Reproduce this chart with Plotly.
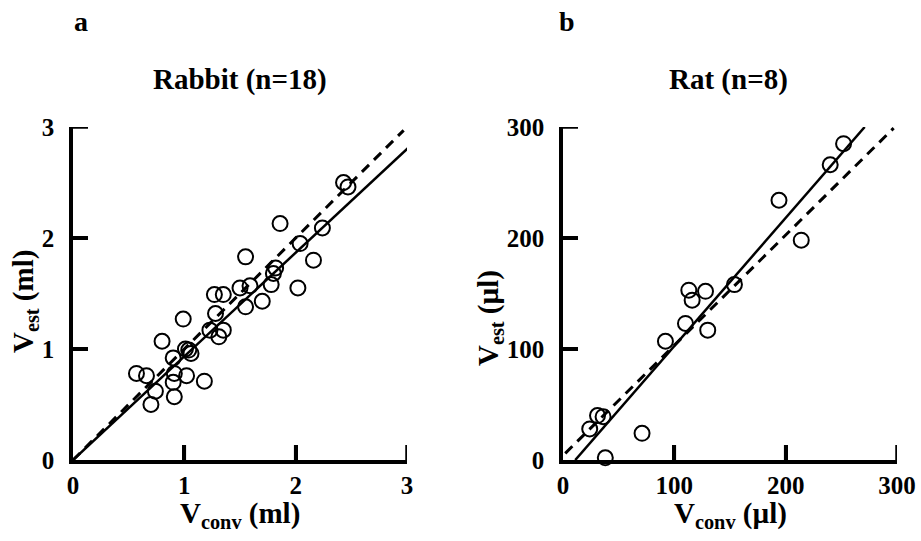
import plotly.graph_objects as go

W, H = 921, 541

# Rabbit data (ml)
rabbit_conv = [0.57, 0.66, 0.74, 0.70, 0.80, 0.90, 0.91, 0.90, 0.91, 1.02, 0.99, 1.04, 1.06, 1.01,
               1.18, 1.23, 1.28, 1.27, 1.35, 1.31, 1.35, 1.50, 1.59, 1.55, 1.55, 1.70, 1.78, 1.80,
               1.82, 1.86, 2.02, 2.04, 2.16, 2.24, 2.43, 2.47]
rabbit_est = [0.78, 0.76, 0.62, 0.50, 1.07, 0.92, 0.78, 0.70, 0.57, 0.76, 1.27, 0.99, 0.96, 1.00,
              0.71, 1.17, 1.32, 1.49, 1.49, 1.11, 1.17, 1.55, 1.57, 1.83, 1.38, 1.43, 1.58, 1.68,
              1.73, 2.13, 1.55, 1.95, 1.80, 2.09, 2.50, 2.46]
rabbit_fit_x = [0.0, 3.02]
rabbit_fit_y = [0.0, 2.82]
rabbit_id_x = [0.0, 2.97]
rabbit_id_y = [0.0, 2.97]
rabbit_ticks = [0, 1, 2, 3]
rabbit_ticklabels = ["0", "1", "2", "3"]

# Rat data (µl)
rat_conv = [24, 31, 36, 38, 71, 92, 110, 113, 116, 128, 130, 154, 194, 214, 240, 252]
rat_est = [28, 40, 39, 2, 24, 107, 123, 153, 144, 152, 117, 158, 234, 198, 266, 285]
rat_fit_x = [11, 271]
rat_fit_y = [0, 300]
rat_id_x = [2, 297]
rat_id_y = [6, 299]
rat_ticks = [0, 100, 200, 300]
rat_ticklabels = ["0", "100", "200", "300"]

FONT = "Liberation Serif"
PAD = "\u2009\u2009"  # spacing between y tick labels and axis

fig = go.Figure()

marker = dict(symbol="circle-open", size=15, color="black", line=dict(width=2, color="black"))

fig.add_trace(go.Scatter(x=rabbit_id_x, y=rabbit_id_y, mode="lines",
                         line=dict(color="black", width=3, dash="10px,7px"),
                         xaxis="x", yaxis="y", showlegend=False))
fig.add_trace(go.Scatter(x=rabbit_fit_x, y=rabbit_fit_y, mode="lines",
                         line=dict(color="black", width=2.5),
                         xaxis="x", yaxis="y", showlegend=False))
fig.add_trace(go.Scatter(x=rabbit_conv, y=rabbit_est, mode="markers", marker=marker,
                         xaxis="x", yaxis="y", showlegend=False, cliponaxis=False))

fig.add_trace(go.Scatter(x=rat_id_x, y=rat_id_y, mode="lines",
                         line=dict(color="black", width=3, dash="10px,7px"),
                         xaxis="x2", yaxis="y2", showlegend=False))
fig.add_trace(go.Scatter(x=rat_fit_x, y=rat_fit_y, mode="lines",
                         line=dict(color="black", width=2.5),
                         xaxis="x2", yaxis="y2", showlegend=False))
fig.add_trace(go.Scatter(x=rat_conv, y=rat_est, mode="markers", marker=marker,
                         xaxis="x2", yaxis="y2", showlegend=False, cliponaxis=False))

# inside tick marks drawn as line traces at the tick values (length ~15 px)
PLOT_PX = 334.0
TL_PX = 15.0
for xr, yr, vals, span in (("x", "y", rabbit_ticks, 3.0), ("x2", "y2", rat_ticks, 300.0)):
    tl = span * TL_PX / PLOT_PX
    tx, ty = [], []
    for v in vals[1:]:
        tx += [v, v, None]
        ty += [0, tl, None]
        tx += [0, tl, None]
        ty += [v, v, None]
    fig.add_trace(go.Scatter(x=tx, y=ty, mode="lines", line=dict(color="black", width=3.5),
                             xaxis=xr, yaxis=yr, showlegend=False, hoverinfo="skip",
                             cliponaxis=False))

ydom = [1 - 460 / H, 1 - 127 / H]
tickfont = dict(family=FONT, size=25, color="black", weight="bold")
common = dict(showline=True, linecolor="#000000", linewidth=3.5,
              ticks="inside", ticklen=15, tickwidth=3.5, tickcolor="#000000",
              showgrid=False, zeroline=False, tickmode="array",
              tickfont=tickfont, automargin=False)

fig.update_layout(
    width=W, height=H, margin=dict(l=0, r=0, t=0, b=0, autoexpand=False),
    paper_bgcolor="white", plot_bgcolor="white",
    xaxis=dict(domain=[73 / W, 407 / W], range=[0, 3], tickvals=rabbit_ticks,
               ticktext=rabbit_ticklabels, anchor="y", **common),
    yaxis=dict(domain=ydom, range=[0, 3], tickvals=rabbit_ticks,
               ticktext=[t + PAD for t in rabbit_ticklabels], anchor="x", **common),
    xaxis2=dict(domain=[563 / W, 897 / W], range=[0, 300], tickvals=rat_ticks,
                ticktext=rat_ticklabels, anchor="y2", **common),
    yaxis2=dict(domain=ydom, range=[0, 300], tickvals=rat_ticks,
                ticktext=[t + PAD for t in rat_ticklabels], anchor="x2", **common),
)

def ann(text, x, y, size, angle=0):
    fig.add_annotation(text=text, x=x / W, y=1 - y / H, xref="paper", yref="paper",
                       showarrow=False, textangle=angle, xanchor="center", yanchor="middle",
                       font=dict(family=FONT, size=size, color="black"))

ann("<b>a</b>", 81, 22, 28)
ann("<b>b</b>", 567, 22, 28)
ann("<b>Rabbit (n=18)</b>", 240, 80, 29)
ann("<b>Rat (n=8)</b>", 728, 80, 29)
ann("<b>V<sub>conv</sub> (ml)</b>", 240, 515, 29)
ann("<b>V<sub>conv</sub> (µl)</b>", 730, 515, 29)
ann("<b>V<sub>est</sub> (ml)</b>", 25, 302, 29, -90)
ann("<b>V<sub>est</sub> (µl)</b>", 490, 318, 29, -90)

fig.write_html("out.html", config={"displayModeBar": False},
               post_script="document.body.style.margin='0px';")
